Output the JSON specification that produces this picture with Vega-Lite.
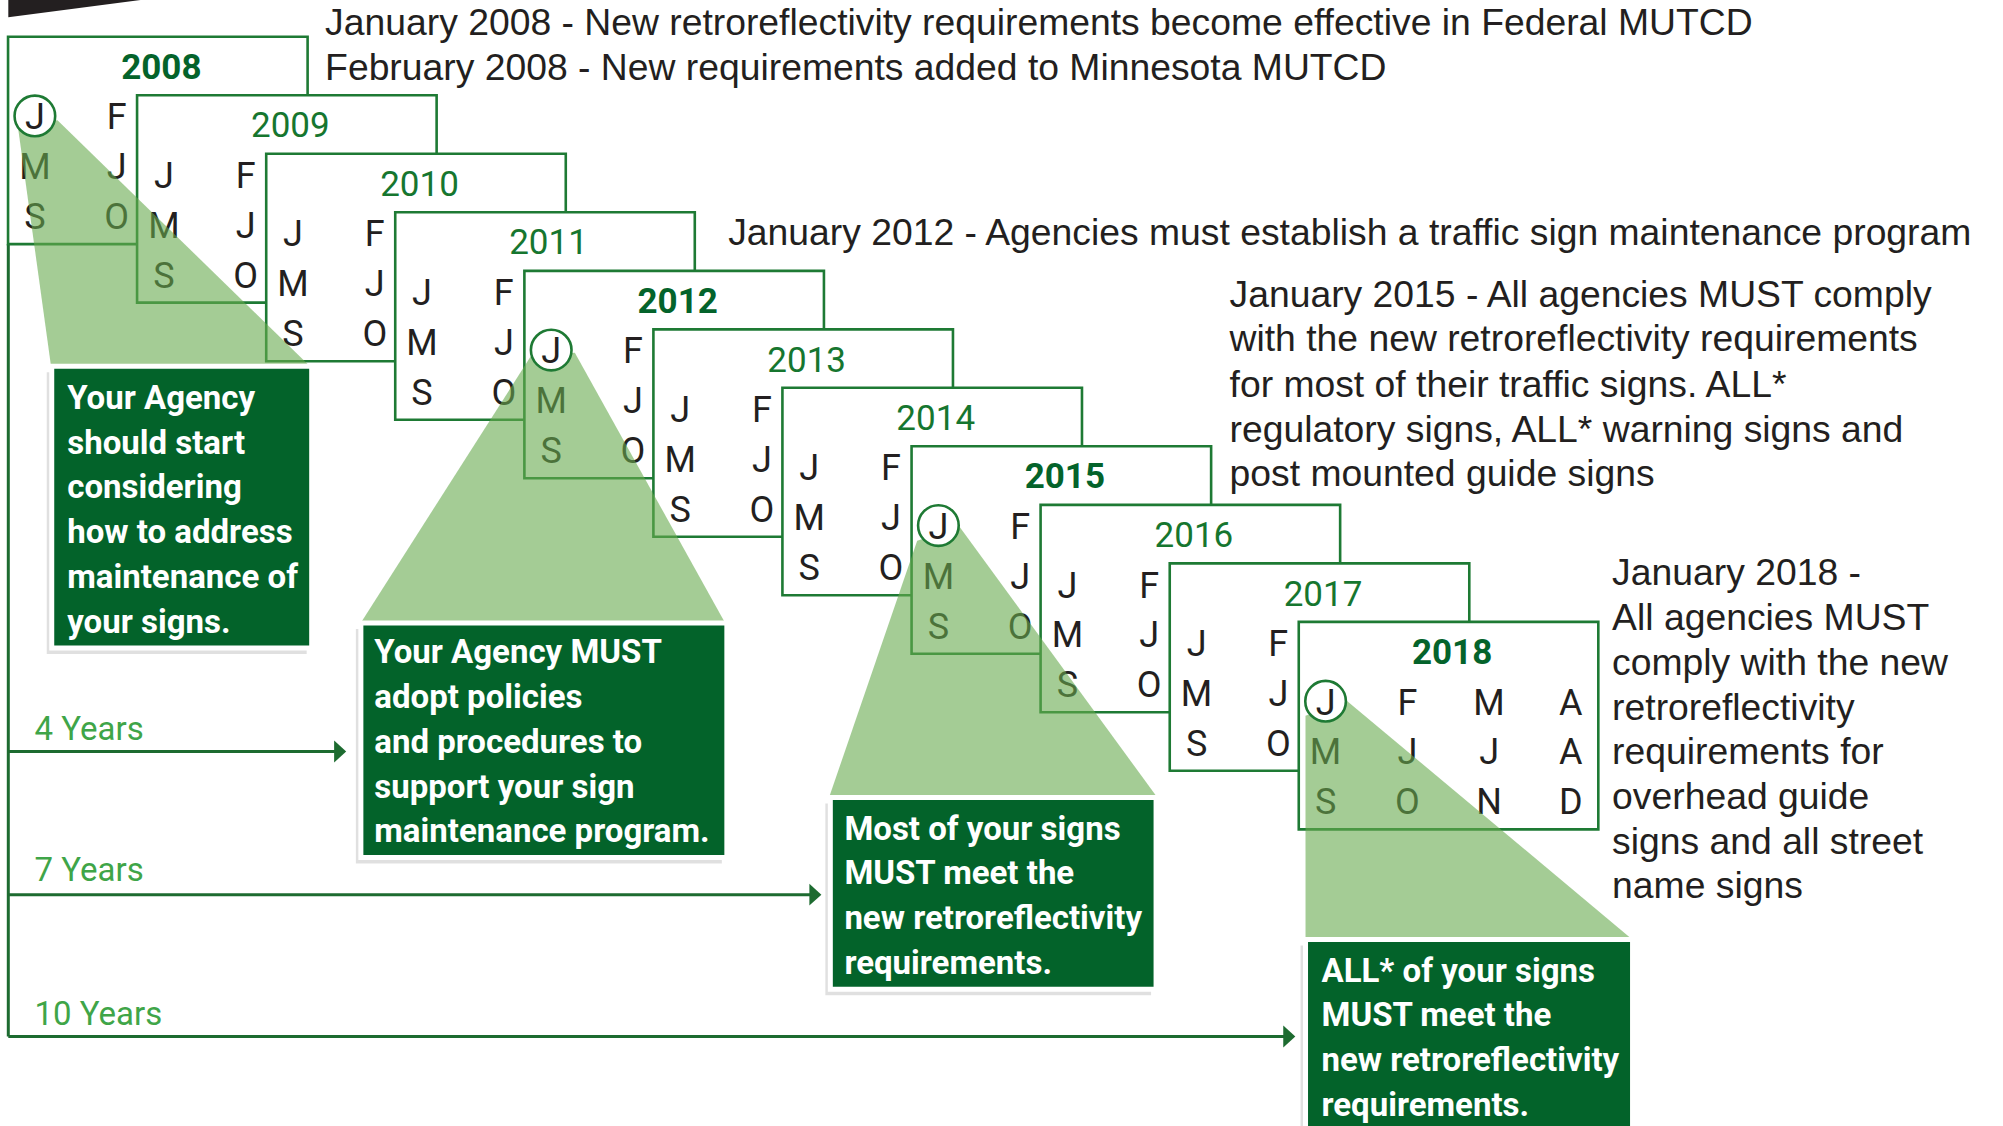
{
  "$schema": "https://vega.github.io/schema/vega-lite/v6.json",
  "width": 2003,
  "height": 1126,
  "autosize": "none",
  "padding": 0,
  "background": "white",
  "config": {"view": {"stroke": null}},
  "datasets": {
    "wedge": [
      {"g": "w", "x": 6.5, "y": 0, "y2": 13.5},
      {"g": "w", "x": 110, "y": 0, "y2": 0}
    ],
    "lines": [
      {"x": 6.5, "x2": 6.5, "y": 191, "y2": 811},
      {"x": 6.5, "x2": 266, "y": 588, "y2": 588},
      {"x": 6.5, "x2": 638, "y": 700, "y2": 700},
      {"x": 6.5, "x2": 1009, "y": 811, "y2": 811}
    ],
    "arrows": [
      {"x": 266.3, "y": 588},
      {"x": 638.3, "y": 700},
      {"x": 1009.3, "y": 811}
    ],
    "spans": [
      {"t": "4 Years", "x": 27, "y": 578.7},
      {"t": "7 Years", "x": 27, "y": 689.4},
      {"t": "10 Years", "x": 27, "y": 801.7}
    ],
    "boxes": [
      {"year": 2008, "x": 6.3, "x2": 240.8, "y": 28.7, "y2": 191.0},
      {"year": 2009, "x": 107.3, "x2": 341.8, "y": 74.5, "y2": 236.8},
      {"year": 2010, "x": 208.4, "x2": 442.9, "y": 120.3, "y2": 282.6},
      {"year": 2011, "x": 309.4, "x2": 543.9, "y": 166.1, "y2": 328.4},
      {"year": 2012, "x": 410.5, "x2": 645.0, "y": 211.9, "y2": 374.2},
      {"year": 2013, "x": 511.5, "x2": 746.0, "y": 257.7, "y2": 420.0},
      {"year": 2014, "x": 612.5, "x2": 847.0, "y": 303.4, "y2": 465.7},
      {"year": 2015, "x": 713.6, "x2": 948.1, "y": 349.2, "y2": 511.5},
      {"year": 2016, "x": 814.6, "x2": 1049.1, "y": 395.0, "y2": 557.3},
      {"year": 2017, "x": 915.7, "x2": 1150.2, "y": 440.8, "y2": 603.1},
      {"year": 2018, "x": 1016.7, "x2": 1251.2, "y": 486.6, "y2": 648.9}
    ],
    "yearsBold": [
      {"t": "2008", "x": 126.3, "y": 61.7},
      {"t": "2012", "x": 530.5, "y": 244.9},
      {"t": "2015", "x": 833.6, "y": 382.2},
      {"t": "2018", "x": 1136.7, "y": 519.6}
    ],
    "yearsRegular": [
      {"t": "2009", "x": 227.3, "y": 107.5},
      {"t": "2010", "x": 328.4, "y": 153.3},
      {"t": "2011", "x": 429.4, "y": 199.1},
      {"t": "2013", "x": 631.5, "y": 290.7},
      {"t": "2014", "x": 732.5, "y": 336.4},
      {"t": "2016", "x": 934.6, "y": 428.0},
      {"t": "2017", "x": 1035.7, "y": 473.8}
    ],
    "months": [
      {"t": "F", "x": 91.3, "y": 101.2}, {"t": "M", "x": 27.3, "y": 140.2}, {"t": "J", "x": 91.3, "y": 140.2}, {"t": "S", "x": 27.3, "y": 179.2}, {"t": "O", "x": 91.3, "y": 179.2},
      {"t": "J", "x": 128.3, "y": 147.0}, {"t": "F", "x": 192.3, "y": 147.0}, {"t": "M", "x": 128.3, "y": 186.0}, {"t": "J", "x": 192.3, "y": 186.0}, {"t": "S", "x": 128.3, "y": 225.0}, {"t": "O", "x": 192.3, "y": 225.0},
      {"t": "J", "x": 229.4, "y": 192.8}, {"t": "F", "x": 293.4, "y": 192.8}, {"t": "M", "x": 229.4, "y": 231.8}, {"t": "J", "x": 293.4, "y": 231.8}, {"t": "S", "x": 229.4, "y": 270.8}, {"t": "O", "x": 293.4, "y": 270.8},
      {"t": "J", "x": 330.4, "y": 238.6}, {"t": "F", "x": 394.4, "y": 238.6}, {"t": "M", "x": 330.4, "y": 277.6}, {"t": "J", "x": 394.4, "y": 277.6}, {"t": "S", "x": 330.4, "y": 316.6}, {"t": "O", "x": 394.4, "y": 316.6},
      {"t": "F", "x": 495.5, "y": 284.4}, {"t": "M", "x": 431.5, "y": 323.4}, {"t": "J", "x": 495.5, "y": 323.4}, {"t": "S", "x": 431.5, "y": 362.4}, {"t": "O", "x": 495.5, "y": 362.4},
      {"t": "J", "x": 532.5, "y": 330.2}, {"t": "F", "x": 596.5, "y": 330.2}, {"t": "M", "x": 532.5, "y": 369.2}, {"t": "J", "x": 596.5, "y": 369.2}, {"t": "S", "x": 532.5, "y": 408.2}, {"t": "O", "x": 596.5, "y": 408.2},
      {"t": "J", "x": 633.5, "y": 375.9}, {"t": "F", "x": 697.5, "y": 375.9}, {"t": "M", "x": 633.5, "y": 414.9}, {"t": "J", "x": 697.5, "y": 414.9}, {"t": "S", "x": 633.5, "y": 453.9}, {"t": "O", "x": 697.5, "y": 453.9},
      {"t": "F", "x": 798.6, "y": 421.7}, {"t": "M", "x": 734.6, "y": 460.7}, {"t": "J", "x": 798.6, "y": 460.7}, {"t": "S", "x": 734.6, "y": 499.7}, {"t": "O", "x": 798.6, "y": 499.7},
      {"t": "J", "x": 835.6, "y": 467.5}, {"t": "F", "x": 899.6, "y": 467.5}, {"t": "M", "x": 835.6, "y": 506.5}, {"t": "J", "x": 899.6, "y": 506.5}, {"t": "S", "x": 835.6, "y": 545.5}, {"t": "O", "x": 899.6, "y": 545.5},
      {"t": "J", "x": 936.7, "y": 513.3}, {"t": "F", "x": 1000.7, "y": 513.3}, {"t": "M", "x": 936.7, "y": 552.3}, {"t": "J", "x": 1000.7, "y": 552.3}, {"t": "S", "x": 936.7, "y": 591.3}, {"t": "O", "x": 1000.7, "y": 591.3},
      {"t": "F", "x": 1101.7, "y": 559.1}, {"t": "M", "x": 1165.7, "y": 559.1}, {"t": "A", "x": 1229.7, "y": 559.1},
      {"t": "M", "x": 1037.7, "y": 598.1}, {"t": "J", "x": 1101.7, "y": 598.1}, {"t": "J", "x": 1165.7, "y": 598.1}, {"t": "A", "x": 1229.7, "y": 598.1},
      {"t": "S", "x": 1037.7, "y": 637.1}, {"t": "O", "x": 1101.7, "y": 637.1}, {"t": "N", "x": 1165.7, "y": 637.1}, {"t": "D", "x": 1229.7, "y": 637.1}
    ],
    "triangles": [
      {"g": 1, "x": 14, "y": 99, "y2": 99},
      {"g": 1, "x": 40, "y": 94.8, "y2": 287},
      {"g": 1, "x": 45, "y": 94, "y2": 287},
      {"g": 1, "x": 243, "y": 287, "y2": 287},
      {"g": 2, "x": 282, "y": 488, "y2": 488},
      {"g": 2, "x": 416, "y": 278, "y2": 488},
      {"g": 2, "x": 450, "y": 276, "y2": 488},
      {"g": 2, "x": 568, "y": 488, "y2": 488},
      {"g": 3, "x": 649, "y": 624, "y2": 624},
      {"g": 3, "x": 718, "y": 423, "y2": 624},
      {"g": 3, "x": 751, "y": 412, "y2": 624},
      {"g": 3, "x": 906, "y": 624, "y2": 624},
      {"g": 4, "x": 1022, "y": 560, "y2": 736},
      {"g": 4, "x": 1054, "y": 548, "y2": 736},
      {"g": 4, "x": 1279, "y": 736, "y2": 736}
    ],
    "circles": [
      {"x": 27.3, "y": 90.7},
      {"x": 431.5, "y": 273.9},
      {"x": 734.6, "y": 411.2},
      {"x": 1037.7, "y": 548.6}
    ],
    "circleJ": [
      {"t": "J", "x": 27.3, "y": 101.2},
      {"t": "J", "x": 431.5, "y": 284.4},
      {"t": "J", "x": 734.6, "y": 421.7},
      {"t": "J", "x": 1037.7, "y": 559.1}
    ],
    "callouts": [
      {"x": 40.5, "x2": 244, "y": 286.5, "y2": 507},
      {"x": 282.5, "x2": 569, "y": 487.5, "y2": 671},
      {"x": 650, "x2": 905, "y": 624, "y2": 774},
      {"x": 1022, "x2": 1278, "y": 735, "y2": 900}
    ],
    "calloutText": [
      {"t": "Your Agency", "x": 52.6, "y": 320},
      {"t": "should start", "x": 52.6, "y": 355},
      {"t": "considering", "x": 52.6, "y": 390},
      {"t": "how to address", "x": 52.6, "y": 425},
      {"t": "maintenance of", "x": 52.6, "y": 460},
      {"t": "your signs.", "x": 52.6, "y": 495},
      {"t": "Your Agency MUST", "x": 293, "y": 519},
      {"t": "adopt policies", "x": 293, "y": 554},
      {"t": "and procedures to", "x": 293, "y": 589},
      {"t": "support your sign", "x": 293, "y": 624},
      {"t": "maintenance program.", "x": 293, "y": 659},
      {"t": "Most of your signs", "x": 661, "y": 657},
      {"t": "MUST meet the", "x": 661, "y": 692},
      {"t": "new retroreflectivity", "x": 661, "y": 727},
      {"t": "requirements.", "x": 661, "y": 762},
      {"t": "ALL* of your signs", "x": 1034.5, "y": 768},
      {"t": "MUST meet the", "x": 1034.5, "y": 803},
      {"t": "new retroreflectivity", "x": 1034.5, "y": 838},
      {"t": "requirements.", "x": 1034.5, "y": 873}
    ],
    "notes": [
      {"t": "January 2008 - New retroreflectivity requirements become effective in Federal MUTCD", "x": 254.5, "y": 27.4},
      {"t": "February 2008 - New requirements added to Minnesota MUTCD", "x": 254.5, "y": 62.6},
      {"t": "January 2012 - Agencies must establish a traffic sign maintenance program", "x": 570, "y": 192},
      {"t": "January 2015 - All agencies MUST comply", "x": 962.5, "y": 240},
      {"t": "with the new retroreflectivity requirements", "x": 962.5, "y": 275},
      {"t": "for most of their traffic signs.  ALL*", "x": 962.5, "y": 310.5},
      {"t": "regulatory signs, ALL* warning signs and", "x": 962.5, "y": 345.5},
      {"t": "post mounted guide signs", "x": 962.5, "y": 380},
      {"t": "January 2018 -", "x": 1262, "y": 457.5},
      {"t": "All agencies MUST", "x": 1262, "y": 493},
      {"t": "comply with the new", "x": 1262, "y": 528},
      {"t": "retroreflectivity", "x": 1262, "y": 563},
      {"t": "requirements for", "x": 1262, "y": 598},
      {"t": "overhead guide", "x": 1262, "y": 633},
      {"t": "signs and all street", "x": 1262, "y": 668},
      {"t": "name signs", "x": 1262, "y": 703}
    ]
  },
  "encoding": {
    "x": {"field": "x", "type": "quantitative", "scale": {"domain": [0, 1568], "nice": false, "zero": false}, "axis": null},
    "y": {"field": "y", "type": "quantitative", "scale": {"domain": [0, 881], "nice": false, "zero": false, "reverse": true}, "axis": null}
  },
  "layer": [
    {
      "data": {"name": "wedge"},
      "mark": {"type": "area", "orient": "vertical", "color": "#231f20"},
      "encoding": {"y2": {"field": "y2"}, "detail": {"field": "g"}}
    },
    {
      "data": {"name": "lines"},
      "mark": {"type": "rule", "color": "#1d6b30", "strokeWidth": 3},
      "encoding": {"x2": {"field": "x2"}, "y2": {"field": "y2"}}
    },
    {
      "data": {"name": "arrows"},
      "mark": {"type": "point", "shape": "M -0.55 -1 L 0.55 0 L -0.55 1 Z", "filled": true, "color": "#1d6b30", "opacity": 1, "size": 480},
      "encoding": {}
    },
    {
      "data": {"name": "spans"},
      "mark": {"type": "text", "align": "left", "baseline": "alphabetic", "font": "Roboto", "fontSize": 33, "color": "#3fa548"},
      "encoding": {"text": {"field": "t"}}
    },
    {
      "data": {"name": "boxes"},
      "mark": {"type": "rect", "fill": "white", "stroke": "#1e7a34", "strokeWidth": 2.6},
      "encoding": {"x2": {"field": "x2"}, "y2": {"field": "y2"}}
    },
    {
      "data": {"name": "yearsBold"},
      "mark": {"type": "text", "align": "center", "baseline": "alphabetic", "font": "Roboto", "fontWeight": "bold", "fontSize": 35, "color": "#04632b"},
      "encoding": {"text": {"field": "t"}}
    },
    {
      "data": {"name": "yearsRegular"},
      "mark": {"type": "text", "align": "center", "baseline": "alphabetic", "font": "Roboto", "fontSize": 35, "color": "#16762f"},
      "encoding": {"text": {"field": "t"}}
    },
    {
      "data": {"name": "months"},
      "mark": {"type": "text", "align": "center", "baseline": "alphabetic", "font": "Roboto", "fontSize": 36, "color": "#231f20"},
      "encoding": {"text": {"field": "t"}}
    },
    {
      "data": {"name": "triangles"},
      "mark": {"type": "area", "orient": "vertical", "color": "#67aa4e", "opacity": 0.6},
      "encoding": {"y2": {"field": "y2"}, "detail": {"field": "g"}}
    },
    {
      "data": {"name": "circles"},
      "mark": {"type": "point", "shape": "circle", "filled": true, "fill": "white", "stroke": "#1e7a34", "strokeWidth": 2.6, "opacity": 1, "fillOpacity": 1, "size": 1650},
      "encoding": {}
    },
    {
      "data": {"name": "circleJ"},
      "mark": {"type": "text", "align": "center", "baseline": "alphabetic", "font": "Roboto", "fontSize": 36, "color": "#231f20"},
      "encoding": {"text": {"field": "t"}}
    },
    {
      "data": {"name": "callouts"},
      "mark": {"type": "rect", "fill": "#000000", "opacity": 0.12, "xOffset": -5, "yOffset": 6, "x2Offset": -5, "y2Offset": 6},
      "encoding": {"x2": {"field": "x2"}, "y2": {"field": "y2"}}
    },
    {
      "data": {"name": "callouts"},
      "mark": {"type": "rect", "fill": "#03632a", "stroke": "white", "strokeWidth": 5},
      "encoding": {"x2": {"field": "x2"}, "y2": {"field": "y2"}}
    },
    {
      "data": {"name": "calloutText"},
      "mark": {"type": "text", "align": "left", "baseline": "alphabetic", "font": "Roboto", "fontWeight": "bold", "fontSize": 33, "color": "white"},
      "encoding": {"text": {"field": "t"}}
    },
    {
      "data": {"name": "notes"},
      "mark": {"type": "text", "align": "left", "baseline": "alphabetic", "font": "Liberation Sans", "fontSize": 37.3, "color": "#231f20"},
      "encoding": {"text": {"field": "t"}}
    }
  ]
}
